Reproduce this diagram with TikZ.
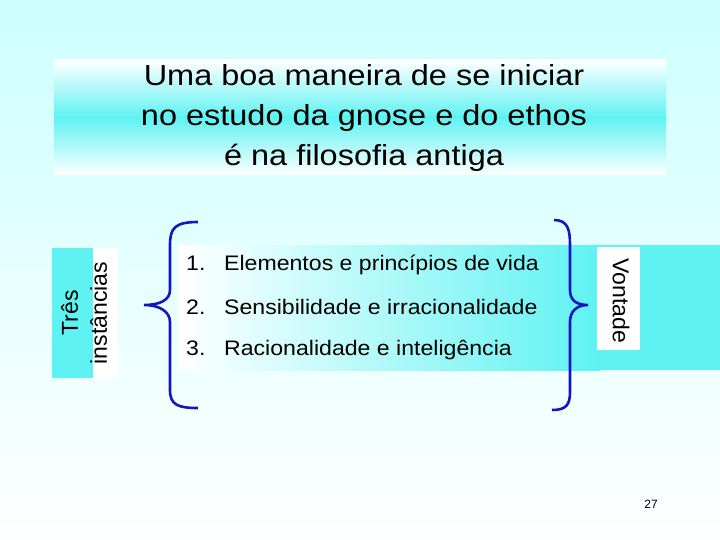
\documentclass[tikz,border=0pt]{standalone}
\usepackage{fontspec}
\setmainfont{Liberation Sans}
\definecolor{bgc}{HTML}{CCFFFF}
\definecolor{cy}{HTML}{5EF2F2}
\definecolor{br}{HTML}{1414C0}
\begin{document}
\begin{tikzpicture}[x=1pt,y=-1pt,
  brace/.style={draw=br,line width=2.6pt},
  item/.style={anchor=west,font=\fontsize{21}{24}\selectfont,inner sep=0,xscale=1.1}]
\useasboundingbox (0,0) rectangle (720,540);
\shade[top color=bgc,bottom color=white] (0,0) rectangle (720,540);
% title
\shade[top color=white,bottom color=cy] (54,60) rectangle (666,118);
\shade[top color=cy,bottom color=white] (54,117) rectangle (666,175);
\node[align=center,xscale=1.12,font=\fontsize{29}{40}\selectfont] (title) at (364,118) {Uma boa maneira de se iniciar\\ no estudo da gnose e do ethos\\ é na filosofia antiga};
% left label
\fill[cy] (52,248) rectangle (93,378);
\fill[white] (93,248) rectangle (118,378);
\node[rotate=90,align=center,font=\fontsize{23}{29}\selectfont] (tres) at (84,313) {Três\\ instâncias};
% middle band
\shade[left color=white,right color=cy] (178,245) rectangle (600,370);
\fill[cy] (600,245) rectangle (720,370);
\fill[white] (597,247) rectangle (640,350);
\node[rotate=-90,font=\fontsize{23}{26}\selectfont] (vont) at (621,301) {Vontade};
\node[item] (i1) at (186,265) {1.\hspace{17pt}Elementos e princípios de vida};
\node[item] (i2) at (186,307) {2.\hspace{17pt}Sensibilidade e irracionalidade};
\node[item] (i3) at (186,350) {3.\hspace{17pt}Racionalidade e inteligência};
% braces
\draw[brace] (198,222) .. controls (175,222) and (170,228) .. (170,245) -- (170,290) .. controls (170,300) and (160,305) .. (144,305) .. controls (160,305) and (170,312) .. (170,322) -- (170,390) .. controls (170,405) and (178,408) .. (198,408);
\draw[brace] (554,220) .. controls (568,220) and (570,230) .. (570,245) -- (570,290) .. controls (570,300) and (576,305) .. (588,305) .. controls (576,305) and (570,312) .. (570,322) -- (570,392) .. controls (570,405) and (566,410) .. (552,410);
\node[font=\fontsize{12}{14}\selectfont] (pg) at (651,504) {27};
\end{tikzpicture}
\end{document}
